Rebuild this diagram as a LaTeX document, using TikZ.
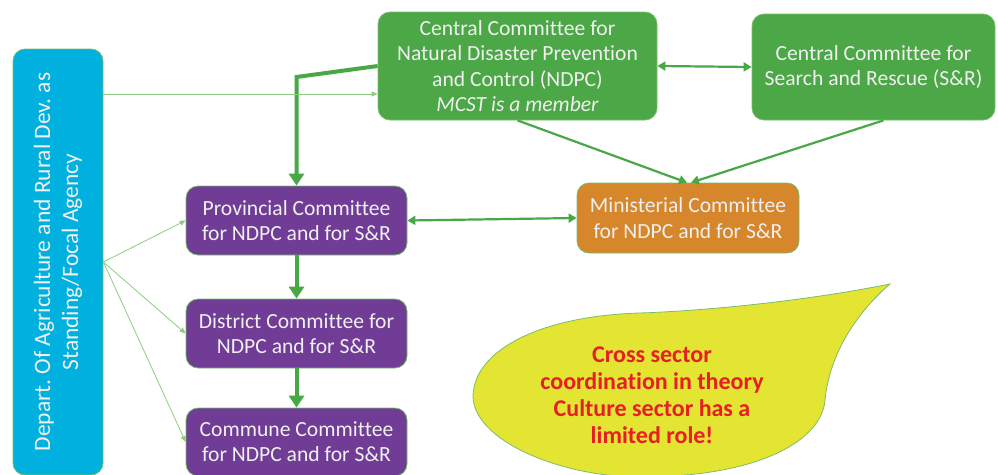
\documentclass[tikz,border=0pt]{standalone}
\usepackage{fontspec}
\setmainfont[Ligatures=NoCommon]{Carlito}
\usetikzlibrary{arrows.meta}
\definecolor{boxgreen}{RGB}{76,167,70}
\definecolor{boxpurple}{RGB}{112,60,150}
\definecolor{boxorange}{RGB}{214,134,43}
\definecolor{boxblue}{RGB}{0,176,222}
\definecolor{edgegreen}{RGB}{122,190,105}
\definecolor{flowgreen}{RGB}{72,168,70}
\definecolor{feedgreen}{RGB}{140,205,125}
\definecolor{noteyellow}{RGB}{228,228,50}
\definecolor{notered}{RGB}{228,32,36}

\begin{document}
\begin{tikzpicture}
  [x=1pt,y=-1pt,
   every node/.style={rounded corners=12pt,draw=edgegreen,line width=0.8pt,text=white!94!black,
     align=center,inner sep=0pt,font=\fontsize{21.6}{25.2}\selectfont},
   central/.style={fill=boxgreen},
   local/.style={fill=boxpurple,minimum width=221pt,minimum height=69pt},
   thickflow/.style={draw=flowgreen,line width=4pt,-{Triangle[length=12pt,width=15pt]}},
   flow/.style={draw=flowgreen,line width=2.2pt,-{Triangle[length=8pt,width=9pt]}},
   twoway/.style={draw=flowgreen,line width=2.2pt,{Triangle[length=8pt,width=9pt]}-{Triangle[length=8pt,width=9pt]}},
   feedline/.style={draw=feedgreen,line width=0.8pt,-{Triangle[length=6pt,width=5pt]}}]
  \useasboundingbox (0,0) rectangle (998,474);

  \node[fill=boxblue,rotate=90,minimum width=426pt,minimum height=90pt,
        font=\fontsize{23.5}{28}\selectfont] (dep) at (58,262)
    {Depart.\ Of Agriculture and Rural Dev.\ as\\Standing/Focal Agency};
  \node[central,minimum width=279pt,minimum height=108pt] (ndpc) at (517.5,66)
    {Central Committee for\\Natural Disaster Prevention\\and Control (NDPC)\\\itshape MCST is a member};
  \node[central,minimum width=243pt,minimum height=106pt] (sr) at (873.5,67)
    {Central Committee for\\Search and Rescue (S\&R)};
  \node[fill=boxorange,minimum width=222pt,minimum height=70pt] (mini) at (688,218)
    {Ministerial Committee\\for NDPC and for S\&R};
  \node[local] (prov) at (296.5,220.5) {Provincial Committee\\for NDPC and for S\&R};
  \node[local] (dist) at (296.5,333.5) {District Committee for\\NDPC and for S\&R};
  \node[local,minimum height=68pt] (comm) at (296.5,442) {Commune Committee\\for NDPC and for S\&R};

  \coordinate (bend) at (296.5,77);
  \coordinate (feed) at ([yshift=-28pt]ndpc.west);

  \draw[thickflow] (ndpc.west) -- (bend) -- (prov.north);
  \foreach \from/\to in {prov/dist,dist/comm}
    \draw[thickflow] (\from) -- (\to);
  \draw[twoway] (ndpc.east) -- (sr.west);
  \draw[twoway] (prov.east) -- (mini.west);
  \draw[flow] (ndpc.south) -- ([xshift=-1pt]mini.north);
  \draw[flow] ([xshift=10pt]sr.south) -- ([xshift=3pt]mini.north);
  \draw[feedline] (dep.south |- feed) -- (feed);
  \foreach \to in {prov,dist,comm}
    \draw[feedline] (dep.south) -- (\to.west);

  \path[draw=edgegreen,line width=0.8pt,fill=noteyellow]
    (890,284) .. controls (800,302) and (700,311) .. (640,313)
    .. controls (540,316) and (475,350) .. (473,395)
    .. controls (472,440) and (560,477) .. (640,477)
    .. controls (760,477) and (822,440) .. (825,400)
    .. controls (830,350) and (860,310) .. (890,284) -- cycle;
  \node[draw=none,text=notered,font=\fontsize{24}{27}\selectfont\bfseries] (note) at (652,395)
    {Cross sector\\coordination in theory\\Culture sector has a\\limited role!};
\end{tikzpicture}
\end{document}
